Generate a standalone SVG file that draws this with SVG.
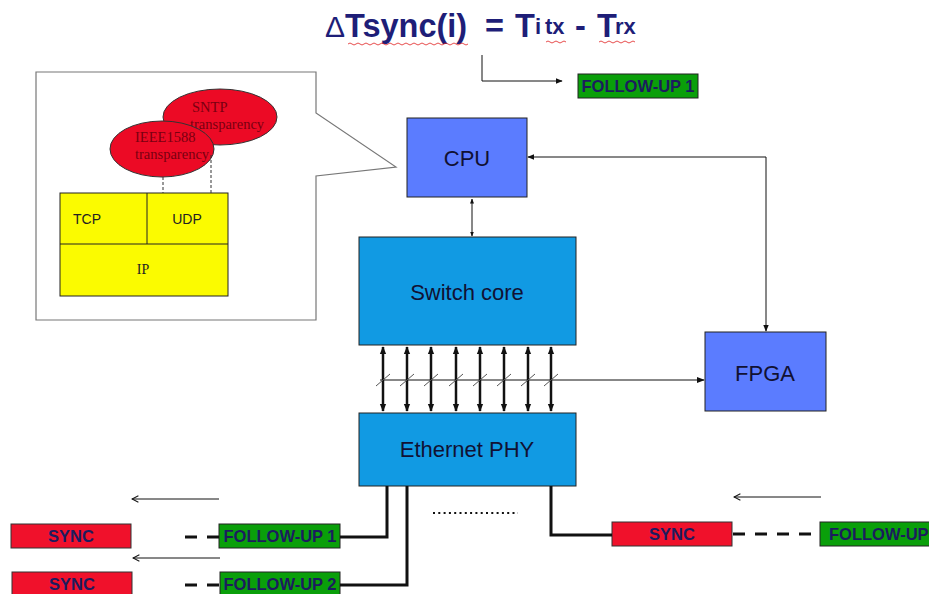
<svg xmlns="http://www.w3.org/2000/svg" width="929" height="594" viewBox="0 0 929 594">
  <defs>
    <style>
      .sans { font-family: "Liberation Sans", Arial, sans-serif; }
      .serif { font-family: "Liberation Serif", "Times New Roman", serif; }
      .blk { fill: #5b7cff; stroke: #222; stroke-width: 1; }
      .core { fill: #119ae3; stroke: #222; stroke-width: 1; }
      .lbl { font-family: "Liberation Sans", Arial, sans-serif; font-size: 22px; fill: #111133; text-anchor: middle; }
      .msg-sync { fill: #f0112b; stroke: #333; stroke-width: 1; }
      .msg-fu { fill: #0a9f0a; stroke: #222; stroke-width: 1; }
      .msg-txt { font-family: "Liberation Sans", Arial, sans-serif; font-size: 16.5px; font-weight: bold; fill: #1c1c5e; text-anchor: middle; }
      .thin { stroke: #111; stroke-width: 1; fill: none; }
      .wire { stroke: #111; stroke-width: 3; fill: none; }
      .dash { stroke: #111; stroke-width: 3; fill: none; stroke-dasharray: 12 10; }
      .bus { stroke: #111; stroke-width: 2.5; fill: none; }
      .tick { stroke: #555; stroke-width: 1; }
      .squig { stroke: #e02020; stroke-width: 0.8; fill: none; }
      .ttl { font-family: "Liberation Sans", Arial, sans-serif; font-weight: bold; fill: #1e1e78; }
      .ell-txt { font-family: "Liberation Serif", "Times New Roman", serif; font-size: 14.5px; fill: #7a0010; }
    </style>
    <marker id="ah" viewBox="0 0 10 10" refX="9" refY="5" markerWidth="7" markerHeight="7" orient="auto-start-reverse" markerUnits="userSpaceOnUse">
      <path d="M0,1 L10,5 L0,9 z" fill="#111"/>
    </marker>
    <marker id="ahs" viewBox="0 0 10 10" refX="9" refY="5" markerWidth="5" markerHeight="5" orient="auto-start-reverse" markerUnits="userSpaceOnUse">
      <path d="M0,1 L10,5 L0,9 z" fill="#111"/>
    </marker>
    <marker id="ahb" viewBox="0 0 10 10" refX="9" refY="5" markerWidth="8" markerHeight="8" orient="auto-start-reverse" markerUnits="userSpaceOnUse">
      <path d="M0,1 L10,5 L0,9 z" fill="#111"/>
    </marker>
    <marker id="ahl" viewBox="0 0 10 10" refX="9" refY="5" markerWidth="8" markerHeight="8" orient="auto" markerUnits="userSpaceOnUse">
      <path d="M1,1 L9,5 L1,9" fill="none" stroke="#111" stroke-width="1.3"/>
    </marker>
  </defs>

  <rect width="929" height="594" fill="#fff"/>

  <!-- formula heading -->
  <g id="formula">
    <text y="37" class="ttl" font-size="32.5"><tspan x="325" font-weight="normal" font-size="30">Δ</tspan><tspan x="345">Tsync(i)</tspan><tspan x="485">=</tspan><tspan x="515">T</tspan><tspan x="535" y="34" font-size="22">i</tspan><tspan x="545" font-size="22">tx</tspan><tspan x="575" y="37">-</tspan><tspan x="597">T</tspan><tspan x="615" y="34" font-size="22">rx</tspan></text>
    <path class="squig" d="M348,44 q2,-2 4,0 t4,0 t4,0 t4,0 t4,0 t4,0 t4,0 t4,0 t4,0 t4,0 t4,0 t4,0 t4,0 t4,0 t4,0 t4,0 t4,0 t4,0 t4,0 t4,0 t4,0 t4,0 t4,0 t4,0 t4,0 t4,0 t4,0 t4,0 t4,0 t4,0"/>
    <path class="squig" d="M546,42 q2,-2 4,0 t4,0 t4,0 t4,0 t4,0"/>
    <path class="squig" d="M599,42 q2,-2 4,0 t4,0 t4,0 t4,0 t4,0 t4,0 t4,0 t4,0 t4,0"/>
  </g>

  <!-- protocol stack callout -->
  <g id="callout">
    <path d="M36,72 L316,72 L316,113 L396,167 L316,176 L316,320 L36,320 Z" fill="#fff" stroke="#777" stroke-width="1.2"/>
  </g>
  <g id="stack">
    <rect x="60" y="193" width="168" height="103" fill="#fbfb00" stroke="#222" stroke-width="1"/>
    <line x1="60" y1="244" x2="228" y2="244" stroke="#222" stroke-width="1"/>
    <line x1="147" y1="193" x2="147" y2="244" stroke="#222" stroke-width="1"/>
    <text x="73" y="224" class="sans" font-size="14" fill="#222">TCP</text>
    <text x="187" y="224" class="sans" font-size="14" fill="#222" text-anchor="middle">UDP</text>
    <text x="143" y="274" class="serif" font-size="14" fill="#222" text-anchor="middle">IP</text>
  </g>
  <g id="sntp">
    <ellipse cx="220" cy="117" rx="57" ry="28" fill="#ec0a25" stroke="#333" stroke-width="1"/>
    <text x="192" y="112" class="ell-txt">SNTP</text>
    <text x="190" y="129" class="ell-txt">transparency</text>
  </g>
  <g id="ieee1588">
    <ellipse cx="162" cy="149" rx="52" ry="28" fill="#ec0a25" stroke="#333" stroke-width="1"/>
    <text x="135" y="142" class="ell-txt">IEEE1588</text>
    <text x="135" y="159" class="ell-txt">transparency</text>
  </g>
  <g id="stack-links" stroke="#333" stroke-width="1" stroke-dasharray="3 2">
    <line x1="163" y1="177" x2="163" y2="193"/>
    <line x1="211" y1="155" x2="211" y2="193"/>
  </g>

  <!-- hardware blocks -->
  <g id="cpu">
    <rect x="407" y="118" width="120" height="79" class="blk"/>
    <text x="467" y="166" class="lbl">CPU</text>
  </g>
  <g id="switch-core">
    <rect x="359" y="237" width="217" height="108" class="core"/>
    <text x="467" y="300" class="lbl">Switch core</text>
  </g>
  <g id="fpga">
    <rect x="705" y="332" width="121" height="79" class="blk"/>
    <text x="765" y="381" class="lbl">FPGA</text>
  </g>
  <g id="ethernet-phy">
    <rect x="359" y="413" width="217" height="73" class="core"/>
    <text x="467" y="457" class="lbl">Ethernet PHY</text>
  </g>

  <!-- messages -->
  <g id="fu-top">
    <rect x="578" y="74" width="120" height="24" class="msg-fu"/>
    <text x="638" y="92" class="msg-txt">FOLLOW-UP 1</text>
  </g>
  <g id="sync-1">
    <rect x="11" y="524" width="120" height="24" class="msg-sync"/>
    <text x="71" y="542" class="msg-txt">SYNC</text>
  </g>
  <g id="fu-1">
    <rect x="219" y="524" width="121" height="24" class="msg-fu"/>
    <text x="280" y="542" class="msg-txt">FOLLOW-UP 1</text>
  </g>
  <g id="sync-2">
    <rect x="12" y="572" width="120" height="24" class="msg-sync"/>
    <text x="72" y="590" class="msg-txt">SYNC</text>
  </g>
  <g id="fu-2">
    <rect x="220" y="572" width="120" height="24" class="msg-fu"/>
    <text x="280" y="590" class="msg-txt">FOLLOW-UP 2</text>
  </g>
  <g id="sync-3">
    <rect x="612" y="522" width="120" height="24" class="msg-sync"/>
    <text x="672" y="540" class="msg-txt">SYNC</text>
  </g>
  <g id="fu-3">
    <rect x="820" y="522" width="130" height="24" class="msg-fu"/>
    <text x="829" y="540" class="msg-txt" style="text-anchor: start">FOLLOW-UP</text>
  </g>

  <!-- connectors -->
  <g id="connectors">
    <path class="thin" d="M482,55 L482,81 L562,81" marker-end="url(#ah)"/>
    <line class="thin" x1="472" y1="199" x2="472" y2="236" marker-start="url(#ahs)" marker-end="url(#ahs)"/>
    <path class="thin" d="M766,331 L766,157 L528,157" marker-start="url(#ah)" marker-end="url(#ah)"/>

    <!-- parallel bus between switch core and PHY -->
    <g class="bus">
      <line x1="383" y1="347" x2="383" y2="411" marker-start="url(#ahb)" marker-end="url(#ahb)"/>
      <line x1="407" y1="347" x2="407" y2="411" marker-start="url(#ahb)" marker-end="url(#ahb)"/>
      <line x1="431" y1="347" x2="431" y2="411" marker-start="url(#ahb)" marker-end="url(#ahb)"/>
      <line x1="456" y1="347" x2="456" y2="411" marker-start="url(#ahb)" marker-end="url(#ahb)"/>
      <line x1="480" y1="347" x2="480" y2="411" marker-start="url(#ahb)" marker-end="url(#ahb)"/>
      <line x1="504" y1="347" x2="504" y2="411" marker-start="url(#ahb)" marker-end="url(#ahb)"/>
      <line x1="528" y1="347" x2="528" y2="411" marker-start="url(#ahb)" marker-end="url(#ahb)"/>
      <line x1="551" y1="347" x2="551" y2="411" marker-start="url(#ahb)" marker-end="url(#ahb)"/>
    </g>
    <line class="thin" x1="380" y1="380" x2="704" y2="380" stroke-width="1.5" marker-end="url(#ahb)"/>
    <g class="tick">
      <line x1="376" y1="386" x2="390" y2="374"/>
      <line x1="400" y1="386" x2="414" y2="374"/>
      <line x1="424" y1="386" x2="438" y2="374"/>
      <line x1="449" y1="386" x2="463" y2="374"/>
      <line x1="473" y1="386" x2="487" y2="374"/>
      <line x1="497" y1="386" x2="511" y2="374"/>
      <line x1="521" y1="386" x2="535" y2="374"/>
      <line x1="544" y1="386" x2="558" y2="374"/>
    </g>

    <!-- PHY ports -->
    <path class="wire" d="M387,486 L387,537 L340,537"/>
    <path class="wire" d="M407,486 L407,585 L340,585"/>
    <path class="wire" d="M551,486 L551,535 L612,535"/>
    <line x1="433" y1="513" x2="518" y2="513" stroke="#111" stroke-width="2" stroke-dasharray="2 3.3"/>

    <!-- message gaps -->
    <line class="dash" x1="185" y1="537" x2="219" y2="537"/>
    <line class="dash" x1="185" y1="585" x2="220" y2="585"/>
    <line class="dash" x1="733" y1="534" x2="820" y2="534" stroke-dasharray="4 10 13 8 13 8 13 8 13 8"/>

    <!-- direction of travel -->
    <line class="thin" x1="219" y1="499" x2="132" y2="499" marker-end="url(#ahl)"/>
    <line class="thin" x1="220" y1="558" x2="133" y2="558" marker-end="url(#ahl)"/>
    <line class="thin" x1="821" y1="497" x2="734" y2="497" marker-end="url(#ahl)"/>
  </g>
</svg>
